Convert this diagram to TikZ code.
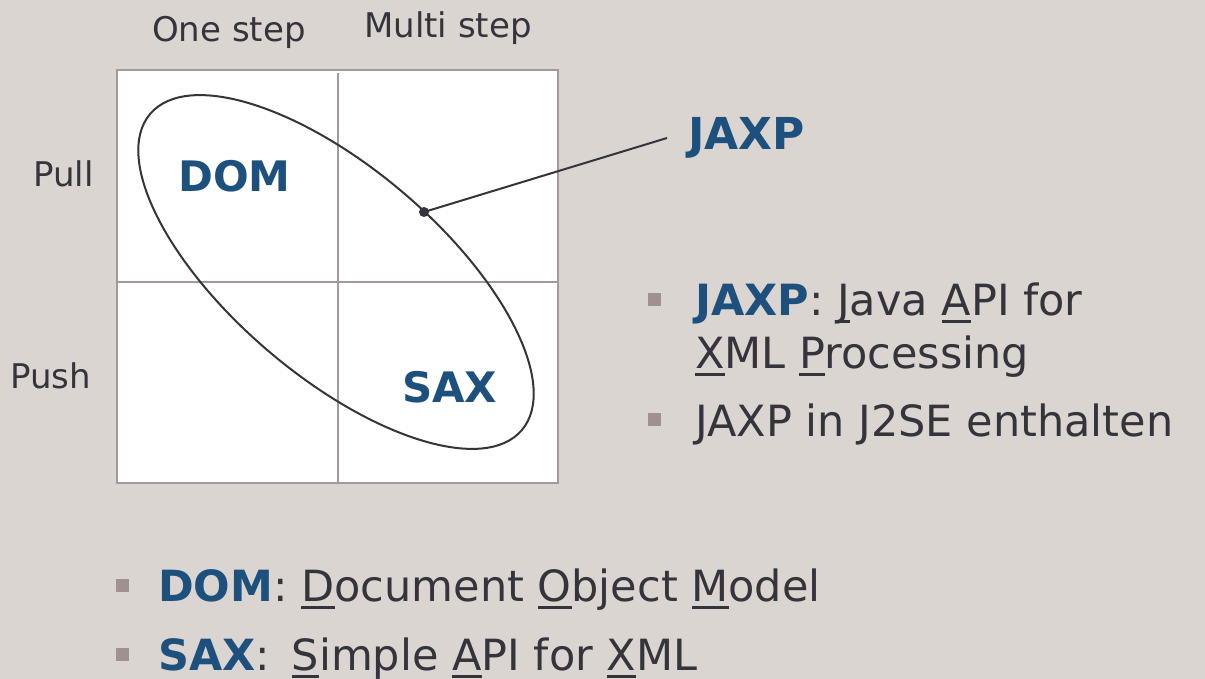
\documentclass[tikz,border=0pt]{standalone}
\usepackage{fontspec}
\setmainfont{DejaVu Sans}
\definecolor{bg}{RGB}{219,213,210}
\definecolor{gridc}{RGB}{165,152,152}
\definecolor{txt}{RGB}{52,52,58}
\definecolor{blu}{RGB}{30,80,125}
\definecolor{bul}{RGB}{160,145,145}
\newcommand\myul[1]{\setbox0\hbox{#1}\rlap{\rule[-8pt]{\wd0}{3pt}}#1}
\tikzset{
  lbl/.style={font=\fontsize{34}{40}\selectfont, text=txt, anchor=base west, inner sep=0pt},
  body/.style={font=\fontsize{43}{50}\selectfont, text=txt, anchor=base west, inner sep=0pt},
  tag/.style={font=\fontsize{42}{48}\selectfont\bfseries, text=blu, anchor=base west, inner sep=0pt},
  sq/.style={fill=bul, minimum size=13pt, inner sep=0pt},
  dotn/.style={circle, fill=txt, minimum size=10pt, inner sep=0pt},
  cellline/.style={draw=gridc, line width=2pt},
}
\begin{document}
\begin{tikzpicture}[x=1pt,y=-1pt]
\fill[bg] (0,0) rectangle (1205,679);
\useasboundingbox (0,0) rectangle (1205,679);
% grid
\draw[fill=white, draw=gridc, line width=2.5pt] (117,70) rectangle (558,483);
\draw[cellline] (338,73) -- (338,483);
\draw[cellline] (117,282) -- (558,282);
% axis labels
\node[lbl] (one) at (152,42) {One step};
\node[lbl] (multi) at (364,38) {Multi step};
\node[lbl] (pull) at (33,187) {Pull};
\node[lbl] (push) at (10,388) {Push};
% ellipse
\draw[txt, line width=2pt, rotate around={-40.4:(336,272)}] (336,272) ellipse [x radius=244pt, y radius=104pt];
% labels in cells
\node[tag] (dom) at (178,192) {DOM};
\node[tag] (sax) at (402,402) {SAX};
\node[tag, font=\fontsize{44}{50}\selectfont\bfseries] (jaxp) at (688,150) {JAXP};
% connector
\node[dotn] (d) at (424,212) {};
\coordinate (jend) at (667,138);
\draw[txt, line width=2pt] (d.center) -- (jend);
% right list
\node[sq] (b1) at (654,299) {};
\node[body] (l1) at (695,315) {\textcolor{blu}{\bfseries JAXP}: \myul{J}ava \myul{A}PI for};
\node[body] (l2) at (695,368) {\myul{X}ML \myul{P}rocessing};
\node[sq] (b2) at (654,419) {};
\node[body] (l3) at (695,436) {JAXP in J2SE enthalten};
% bottom list
\node[sq] (b3) at (122,585) {};
\node[body] (l4) at (158,601) {\textcolor{blu}{\bfseries DOM}: \myul{D}ocument \myul{O}bject \myul{M}odel};
\node[sq] (b4) at (122,654) {};
\node[body] (l5) at (158,670) {\textcolor{blu}{\bfseries SAX}:\hspace{8pt} \myul{S}imple \myul{A}PI for \myul{X}ML};
\end{tikzpicture}
\end{document}
